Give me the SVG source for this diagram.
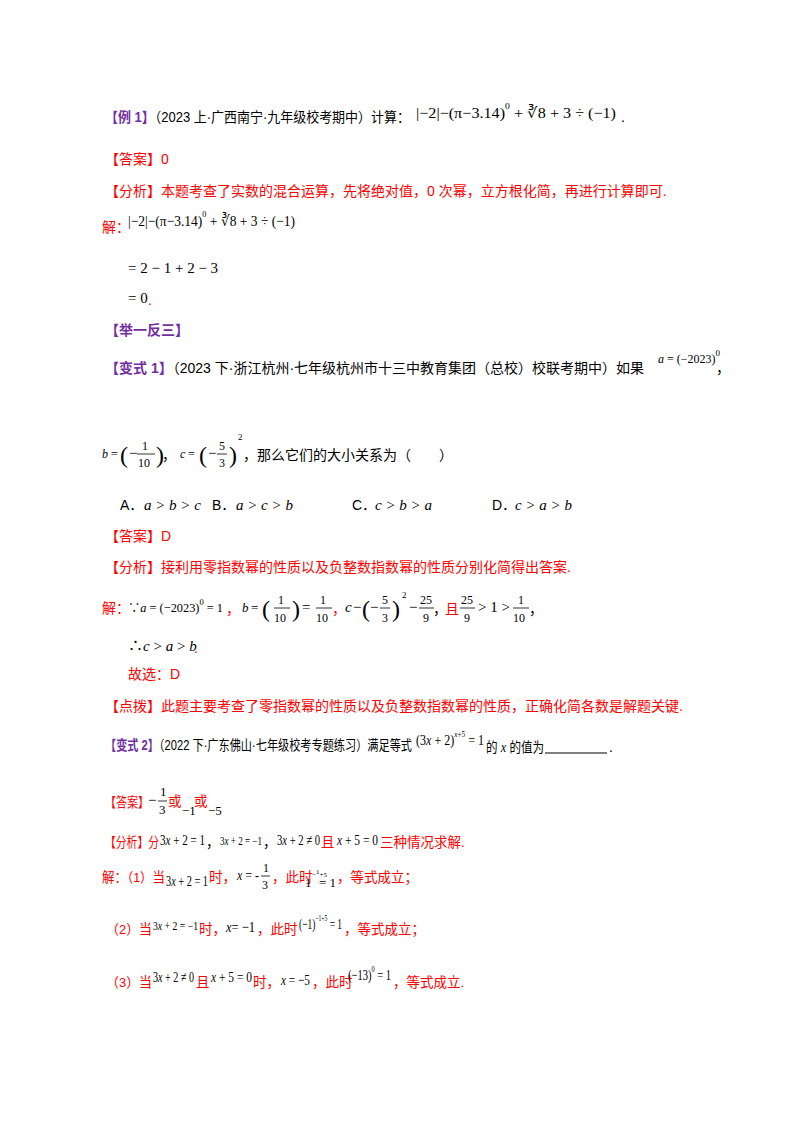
<svg xmlns="http://www.w3.org/2000/svg" width="800" height="1132" viewBox="0 0 800 1132">
<style>
text{font-family:"Liberation Sans","Noto Sans CJK SC",sans-serif;font-size:14px;fill:#000}
.p{fill:#7030a0;font-weight:bold}
.r{fill:#ff0000}
.q{font-size:13.5px}
.m{font-family:"Liberation Serif","Noto Sans CJK SC",serif;font-size:15px}
.i{font-style:italic}
.s{font-size:9px}
.big{font-size:24px;font-family:"Liberation Serif",serif}
line{stroke:#000;stroke-width:0.8}
</style>
<rect width="800" height="1132" fill="#fff"/>
<g id="ex1">
<text x="105" y="122" textLength="305" lengthAdjust="spacingAndGlyphs"><tspan class="p">【例 1】</tspan>（2023 上·广西南宁·九年级校考期中）计算：</text>
<text class="m" x="416" y="118" textLength="200" lengthAdjust="spacingAndGlyphs">|−2|−(π−3.14)<tspan class="s" dy="-9">0</tspan><tspan dy="9"> + ∛8 + 3 ÷ (−1)</tspan></text>
<text x="621" y="122">.</text>
<text x="105" y="164" class="r">【答案】0</text>
<text x="105" y="196" class="r">【分析】本题考查了实数的混合运算，先将绝对值，0 次幂，立方根化简，再进行计算即可.</text>
<text x="102" y="232" class="r">解：</text>
<text class="m" x="128" y="226" textLength="167" lengthAdjust="spacingAndGlyphs">|−2|−(π−3.14)<tspan class="s" dy="-9">0</tspan><tspan dy="9"> + ∛8 + 3 ÷ (−1)</tspan></text>
<text class="m" x="128" y="273">= 2 − 1 + 2 − 3</text>
<text class="m" x="128" y="303">= 0</text><text x="148" y="305" class="r">.</text>
<text x="105" y="335" class="p">【举一反三】</text>
</g>
<g id="v1">
<text x="105" y="373"><tspan class="p">【变式 1】</tspan>（2023 下·浙江杭州·七年级杭州市十三中教育集团（总校）校联考期中）如果</text>
<text class="m" x="658" y="363" style="font-size:12px"><tspan class="i">a</tspan> = (−2023)<tspan class="s" dy="-7">0</tspan></text>
<text x="716" y="373">，</text>
<text class="m" x="102" y="458" style="font-size:12px"><tspan class="i">b</tspan> =</text>
<text class="big" x="120" y="463">(</text><text class="m" x="129" y="458">−</text>
<text class="m" x="142" y="450" style="font-size:12px">1</text><line x1="137" y1="454" x2="155" y2="454"/><text class="m" x="138" y="467" style="font-size:12px">10</text>
<text class="big" x="156" y="463">)</text><text x="162" y="460">，</text>
<text class="m i" x="180" y="458" style="font-size:12px">c</text><text class="m" x="188" y="458" style="font-size:12px">=</text>
<text class="big" x="199" y="463">(</text><text class="m" x="208" y="458">−</text>
<text class="m" x="219" y="450" style="font-size:12px">5</text><line x1="217" y1="454" x2="227" y2="454"/><text class="m" x="219" y="467" style="font-size:12px">3</text>
<text class="big" x="229" y="463">)</text><text class="s m" x="238" y="440">2</text>
<text x="243" y="460">，那么它们的大小关系为（　　）</text>
<text x="120" y="510">A．</text><text class="m i" x="144" y="510">a &gt; b &gt; c</text>
<text x="212" y="510">B．</text><text class="m i" x="236" y="510">a &gt; c &gt; b</text>
<text x="352" y="510">C．</text><text class="m i" x="375" y="510">c &gt; b &gt; a</text>
<text x="492" y="510">D．</text><text class="m i" x="515" y="510">c &gt; a &gt; b</text>
<text x="105" y="541" class="r">【答案】D</text>
<text x="105" y="572" class="r">【分析】接利用零指数幂的性质以及负整数指数幂的性质分别化简得出答案.</text>
<text x="102" y="613" class="r">解：</text>
<text class="m" x="128" y="612" style="font-size:13px" textLength="95" lengthAdjust="spacingAndGlyphs">∵<tspan class="i">a</tspan> = (−2023)<tspan class="s" dy="-7">0</tspan><tspan dy="7"> = 1</tspan></text>
<text x="226" y="614" class="r">，</text>
<text class="m i" x="242" y="612" style="font-size:13px">b</text><text class="m" x="251" y="612" style="font-size:13px">=</text>
<text class="big" x="262" y="617">(</text>
<text class="m" x="278" y="604" style="font-size:12px">1</text><line x1="274" y1="608" x2="290" y2="608"/><text class="m" x="274" y="622" style="font-size:12px">10</text>
<text class="big" x="292" y="617">)</text><text class="m" x="302" y="612">=</text>
<text class="m" x="320" y="604" style="font-size:12px">1</text><line x1="316" y1="608" x2="332" y2="608"/><text class="m" x="316" y="622" style="font-size:12px">10</text>
<text x="332" y="614" class="r">，</text>
<text class="m i" x="345" y="612">c</text><text class="m" x="353" y="612">−</text>
<text class="big" x="362" y="617">(</text><text class="m" x="370" y="612">−</text>
<text class="m" x="382" y="604" style="font-size:12px">5</text><line x1="380" y1="608" x2="390" y2="608"/><text class="m" x="382" y="622" style="font-size:12px">3</text>
<text class="big" x="392" y="617">)</text><text class="s m" x="402" y="598">2</text><text class="m" x="409" y="612">−</text>
<text class="m" x="420" y="604" style="font-size:12px">25</text><line x1="419" y1="608" x2="434" y2="608"/><text class="m" x="423" y="622" style="font-size:12px">9</text>
<text x="433" y="614">，</text>
<text x="445" y="614" class="r">且</text>
<text class="m" x="461" y="604" style="font-size:12px">25</text><line x1="460" y1="608" x2="475" y2="608"/><text class="m" x="464" y="622" style="font-size:12px">9</text>
<text class="m" x="478" y="612">&gt; 1 &gt;</text>
<text class="m" x="518" y="604" style="font-size:12px">1</text><line x1="513" y1="608" x2="529" y2="608"/><text class="m" x="513" y="622" style="font-size:12px">10</text>
<text x="529" y="614">，</text>
<text class="m" x="128" y="651">∴<tspan class="i">c</tspan> &gt; <tspan class="i">a</tspan> &gt; <tspan class="i">b</tspan></text><text x="194" y="653" class="r">.</text>
<text x="128" y="679" class="r">故选：D</text>
<text x="105" y="711" class="r">【点拨】此题主要考查了零指数幂的性质以及负整数指数幂的性质，正确化简各数是解题关键.</text>
</g>
<g id="v2">
<text x="105" y="750" textLength="307" lengthAdjust="spacingAndGlyphs"><tspan class="p">【变式 2】</tspan>（2022 下·广东佛山·七年级校考专题练习）满足等式</text>
<text class="m" x="416" y="745" textLength="68" lengthAdjust="spacingAndGlyphs">(3<tspan class="i">x</tspan> + 2)<tspan class="s" dy="-8"><tspan class="i">x</tspan>+5</tspan><tspan dy="8"> = 1</tspan></text>
<text x="486" y="752" textLength="58" lengthAdjust="spacingAndGlyphs">的 <tspan class="m i">x</tspan> 的值为</text>
<line x1="545" y1="753" x2="607" y2="753" style="stroke-width:1.2"/><text x="609" y="752">.</text>

<text x="105" y="807" class="r q" textLength="44" lengthAdjust="spacingAndGlyphs">【答案】</text>
<text class="m" x="148" y="805">−</text>
<text class="m" x="160" y="796" style="font-size:13px">1</text><line x1="158" y1="801" x2="167" y2="801"/><text class="m" x="159" y="814" style="font-size:13px">3</text>
<text x="168" y="806" class="r q">或</text><text class="m" x="182" y="815" style="font-size:13px">−1</text>
<text x="194" y="806" class="r q">或</text><text class="m" x="208" y="815" style="font-size:13px">−5</text>

<text x="105" y="847" class="r q" textLength="54" lengthAdjust="spacingAndGlyphs">【分析】分</text>
<text class="m" x="160" y="845" textLength="45" lengthAdjust="spacingAndGlyphs">3<tspan class="i">x</tspan> + 2 = 1</text><text x="206" y="847" class="q">，</text>
<text class="m" x="220" y="845" style="font-size:12px" textLength="42" lengthAdjust="spacingAndGlyphs">3<tspan class="i">x</tspan> + 2 = −1</text><text x="263" y="847" class="q">，</text>
<text class="m" x="277" y="845" textLength="43" lengthAdjust="spacingAndGlyphs">3<tspan class="i">x</tspan> + 2 ≠ 0</text>
<text x="321" y="847" class="r q">且</text>
<text class="m" x="337" y="845" textLength="41" lengthAdjust="spacingAndGlyphs"><tspan class="i">x</tspan> + 5 = 0</text>
<text x="380" y="847" class="r q">三种情况求解.</text>

<text x="102" y="882" class="r q" textLength="63" lengthAdjust="spacingAndGlyphs">解：（1）当</text>
<text class="m" x="166" y="886" textLength="42" lengthAdjust="spacingAndGlyphs">3<tspan class="i">x</tspan> + 2 = 1</text>
<text x="209" y="882" class="r q">时，</text>
<text class="m" x="237" y="880" textLength="22" lengthAdjust="spacingAndGlyphs"><tspan class="i">x</tspan> = -</text>
<text class="m" x="263" y="872" style="font-size:12px">1</text><line x1="261" y1="876" x2="270" y2="876"/><text class="m" x="262" y="889" style="font-size:12px">3</text>
<text x="272" y="882" class="r q">，此时</text>
<text class="m" x="305" y="887" style="font-size:13px">1</text><text class="m" x="312" y="877" style="font-size:7px">−<tspan dy="-3">1</tspan><tspan dy="3">+5</tspan></text>
<text class="m" x="319" y="887" style="font-size:13px">= 1</text>
<text x="337" y="882" class="r q">，等式成立；</text>

<text x="106" y="934" class="r q" textLength="46" lengthAdjust="spacingAndGlyphs">（2）当</text>
<text class="m" x="153" y="930" style="font-size:12px" textLength="45" lengthAdjust="spacingAndGlyphs">3<tspan class="i">x</tspan> + 2 = −1</text>
<text x="199" y="934" class="r q">时，</text>
<text class="m" x="226" y="932" textLength="29" lengthAdjust="spacingAndGlyphs"><tspan class="i">x</tspan>= −1</text>
<text x="257" y="934" class="r q">，此时</text>
<text class="m" x="299" y="929" textLength="43" lengthAdjust="spacingAndGlyphs">(−1)<tspan class="s" dy="-8">−1+5</tspan><tspan dy="8"> = 1</tspan></text>
<text x="344" y="934" class="r q">，等式成立；</text>

<text x="106" y="987" class="r q" textLength="46" lengthAdjust="spacingAndGlyphs">（3）当</text>
<text class="m" x="153" y="982" textLength="41" lengthAdjust="spacingAndGlyphs">3<tspan class="i">x</tspan> + 2 ≠ 0</text>
<text x="196" y="987" class="r q">且</text>
<text class="m" x="211" y="982" textLength="41" lengthAdjust="spacingAndGlyphs"><tspan class="i">x</tspan> + 5 = 0</text>
<text x="253" y="987" class="r q">时，</text>
<text class="m" x="281" y="985" textLength="29" lengthAdjust="spacingAndGlyphs"><tspan class="i">x</tspan> = −5</text>
<text x="312" y="987" class="r q">，此时</text>
<text class="m" x="348" y="980" textLength="43" lengthAdjust="spacingAndGlyphs">(−13)<tspan class="s" dy="-8">0</tspan><tspan dy="8"> = 1</tspan></text>
<text x="393" y="987" class="r q">，等式成立.</text>
</g>
</svg>
